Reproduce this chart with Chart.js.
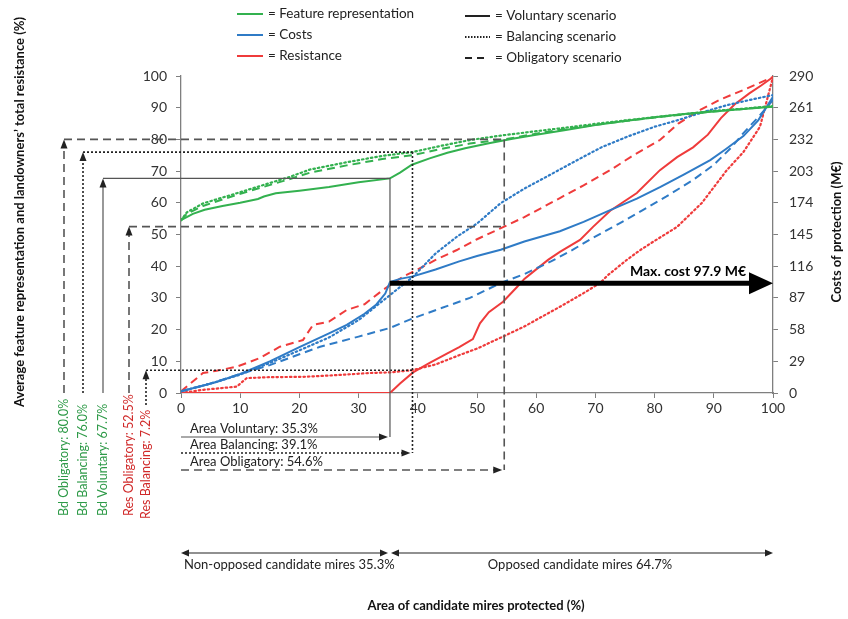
<!DOCTYPE html>
<html>
<head>
<meta charset="utf-8">
<script src="https://cdn.jsdelivr.net/npm/chart.js@4.4.1/dist/chart.umd.min.js"></script>
<style>
  html, body { margin: 0; padding: 0; background: #fff; }
  #wrap { width: 848px; height: 619px; }
</style>
</head>
<body>
<div id="wrap"><canvas id="c" width="848" height="619"></canvas></div>
<script>
// --- data (x = area of candidate mires protected, %) ---
// feature representation, % (left axis)
const featureVoluntary = [[0,54.5],[2,56.5],[4,57.8],[7,59],[10,60],[13,61.2],[14,62],[16,63],[20,63.8],[25,65],[30,66.5],[35.3,67.7],[37,69.5],[39,72],[42,74],[45,75.8],[48,77.2],[52,78.8],[56,80.2],[60,81.5],[65,83],[70,84.5],[75,85.8],[80,87],[85,88],[90,88.8],[95,89.6],[100,90.3]];
const featureBalancing = [[0,54.5],[1,57],[3.7,59.8],[9.4,63],[13.9,65.6],[18.4,68.2],[21.8,70.5],[28,72.8],[34,74.8],[39.1,76],[44,78],[48.8,79.8],[54,81.2],[60,82.6],[65,83.7],[70,84.9],[75,86],[80,87],[85,88],[90,89],[95,89.7],[100,90.5]];
const featureObligatory = [[0,54.5],[1,56.5],[3.7,59],[9.4,62.5],[13.9,65],[18.4,67.5],[21.8,69.5],[28,71.8],[34,73.8],[39.1,75],[44,77],[48.8,78.7],[54.6,80],[60,81.8],[65,83.3],[70,84.6],[75,85.8],[80,86.9],[85,87.9],[90,88.8],[95,89.6],[100,90.4]];

// costs of protection, M€ (right axis)
const costVoluntary = [[0,1.5],[3,5.8],[6,10],[10,17.4],[15,29],[20,42],[25,54.5],[28,62.4],[31,72.5],[33,81],[34.5,91],[35.3,101.5],[37,104.4],[39.2,106.7],[43,113],[47,120.4],[50,125.3],[54,131],[58,138.6],[64,148],[68,156.6],[72.5,167.3],[77,177.8],[81,188.5],[85,200],[89.4,213],[92,223],[95,235],[97.5,249.4],[100,271]];
const costBalancing = [[0,1.5],[5,8.7],[10,16.8],[15,27.5],[20,39],[25,50.8],[30,66.7],[35.3,89.6],[39.2,106.4],[43,127.6],[46.6,143],[50,155],[54,173.7],[58,187],[62,198.6],[66.9,213],[71,224.7],[75.3,234.3],[80,243.6],[83.8,249.4],[88,256.6],[92.2,263.3],[96,268],[100,272.6]];
const costObligatory = [[0,1.5],[5,8.7],[10,17.4],[15,25.5],[20,35.4],[23.5,42.3],[30,51.6],[35.3,59.5],[39.2,68.4],[44,77.7],[48.8,87],[54,100.6],[58,108.8],[62.5,120.4],[66,130.5],[69.6,142],[74,155],[78,167.3],[82,179.8],[86.5,194.9],[90,208.8],[93,224.8],[95,237.8],[97.5,252.3],[100,268]];

// landowners' total resistance, % (left axis)
const resistVoluntary = [[0,0],[35.3,0],[37,3],[39.2,6.5],[42,9.5],[45,12.5],[47,14.5],[49.3,17],[50.5,22],[52,25.5],[54.4,28.8],[56.8,33.5],[58,36],[60,39],[62,42],[64,44.5],[67.4,48.3],[69.6,52.4],[72.5,57.5],[77,63.1],[80.9,70.3],[83.8,74.4],[86.5,77.5],[89,81.5],[91.2,86.7],[93.5,91],[96,94.5],[98,97],[100,99.7]];
const resistBalancing = [[0,0],[3.7,1],[9.4,2],[11.1,4.7],[15,5],[20.6,5.1],[25,5.5],[31.9,6.3],[35.3,6.5],[39.1,7.2],[43,9],[47.1,12],[50,14],[54.4,17.8],[58,21],[64,27.2],[68,31.5],[70.8,34.7],[72,37],[75.3,42],[77.5,45],[80,48],[83.8,52.4],[88,60],[92.2,70.3],[95,76],[97.8,84],[100,99.7]];
const resistObligatory = [[0,0.5],[3.7,6.3],[6,7],[9.4,8.3],[13.3,11],[16.7,14.6],[20.6,16.7],[22.3,21.5],[25,22.5],[28,26.2],[31,28],[34.1,32.5],[37.5,36.7],[40,39],[43,42],[46.6,45.1],[50,48.5],[54.6,52.5],[58,55.5],[64,61.5],[68,65.5],[72.5,70.3],[76,74.5],[80.9,79.8],[84,85],[87.7,89.3],[91,92.5],[95,95.6],[100,99.7]];

// scenario summary values
const scenarioNames = ['Voluntary', 'Balancing', 'Obligatory'];
const scenarioArea = [35.3, 39.1, 54.6];
const scenarioFeature = [67.7, 76.0, 80.0];
const resistScenario = ['Obligatory', 'Balancing'];
const resistValue = [52.5, 7.2];
const resistArea = [54.6, 39.1];
const maxCostLabel = 97.9;
const maxCostLevel = 100.5;
const nonOpposedShare = 35.3;
const opposedShare = 64.7;

const xTicks = [0,10,20,30,40,50,60,70,80,90,100];
const leftTicks = [0,10,20,30,40,50,60,70,80,90,100];
const rightTicks = [0,29,58,87,116,145,174,203,232,261,290];

// --- style ---
const FONT = 'Lato, "Open Sans", sans-serif';
const GREEN = '#33b14f';
const BLUE = '#2f7bc6';
const RED = '#ef3b3b';
const DASH = { Voluntary: [], Balancing: [1.5, 3], Obligatory: [8, 5] };
const CAP = { Voluntary: 'butt', Balancing: 'round', Obligatory: 'butt' };

function pts(arr) { return arr.map(p => ({ x: p[0], y: p[1] })); }

function series(label, arr, color, scen, axis) {
  return {
    label: label,
    data: pts(arr),
    borderColor: color,
    backgroundColor: color,
    borderWidth: scen === 'Balancing' ? 2.2 : 2,
    borderDash: DASH[scen],
    borderCapStyle: CAP[scen],
    pointRadius: 0,
    tension: 0,
    fill: false,
    yAxisID: axis
  };
}

function arrowHead(ctx, x, y, dir, len, half) {
  ctx.save();
  ctx.setLineDash([]);
  ctx.beginPath();
  if (dir === 'up') { ctx.moveTo(x, y); ctx.lineTo(x - half, y + len); ctx.lineTo(x + half, y + len); }
  if (dir === 'right') { ctx.moveTo(x, y); ctx.lineTo(x - len, y - half); ctx.lineTo(x - len, y + half); }
  if (dir === 'left') { ctx.moveTo(x, y); ctx.lineTo(x + len, y - half); ctx.lineTo(x + len, y + half); }
  ctx.closePath();
  ctx.fill();
  ctx.restore();
}

function leaderStyle(ctx, scen) {
  ctx.setLineDash(scen === 'Voluntary' ? [] : scen === 'Balancing' ? [2, 2] : [8, 5]);
  ctx.lineWidth = scen === 'Voluntary' ? 1.2 : 1.6;
  ctx.strokeStyle = scen === 'Balancing' ? '#222' : '#555';
  ctx.fillStyle = '#222';
}

const annotations = {
  id: 'annotations',
  afterDatasetsDraw(chart) {
    const ctx = chart.ctx;
    const xs = chart.scales.x, ys = chart.scales.y, y2 = chart.scales.y2;
    const x0 = xs.getPixelForValue(0);
    const yBase = ys.getPixelForValue(0);

    // leader columns on the left (feature representation and resistance)
    const cols = [
      { x: 64, v: scenarioFeature[2], area: scenarioArea[2], scen: 'Obligatory', txt: 'Bd Obligatory: 80.0%', color: '#2e9a48' },
      { x: 83, v: scenarioFeature[1], area: scenarioArea[1], scen: 'Balancing', txt: 'Bd Balancing: 76.0%', color: '#2e9a48' },
      { x: 103, v: scenarioFeature[0], area: scenarioArea[0], scen: 'Voluntary', txt: 'Bd Voluntary: 67.7%', color: '#2e9a48' },
      { x: 129, v: resistValue[0], area: resistArea[0], scen: resistScenario[0], txt: 'Res Obligatory: 52.5%', color: '#d02a2a' },
      { x: 146, v: resistValue[1], area: resistArea[1], scen: resistScenario[1], txt: 'Res Balancing: 7.2%', color: '#d02a2a' }
    ];
    ctx.save();
    cols.forEach((c, i) => {
      const yv = ys.getPixelForValue(c.v);
      leaderStyle(ctx, c.scen);
      ctx.beginPath();
      ctx.moveTo(c.x, i === 4 ? yBase + 12 : yBase);
      ctx.lineTo(c.x, yv + 6);
      ctx.moveTo(c.x, yv);
      ctx.lineTo(xs.getPixelForValue(c.area), yv);
      ctx.stroke();
      arrowHead(ctx, c.x, yv, 'up', 9, 3.5);
      // rotated label
      ctx.save();
      ctx.translate(c.x, i === 4 ? 519 : 516);
      ctx.rotate(-Math.PI / 2);
      ctx.font = '12.5px ' + FONT;
      ctx.fillStyle = c.color;
      ctx.textAlign = 'left';
      ctx.textBaseline = 'middle';
      ctx.fillText(c.txt, 0, 0);
      ctx.restore();
    });

    // scenario verticals + area arrows below the axis
    const arrowY = [437, 453, 470];
    scenarioNames.forEach((s, i) => {
      const xp = xs.getPixelForValue(scenarioArea[i]);
      leaderStyle(ctx, s);
      ctx.beginPath();
      ctx.moveTo(xp, ys.getPixelForValue(scenarioFeature[i]));
      ctx.lineTo(xp, arrowY[i]);
      ctx.moveTo(x0, arrowY[i]);
      ctx.lineTo(xp - 6, arrowY[i]);
      ctx.stroke();
      arrowHead(ctx, xp - 2, arrowY[i], 'right', 9, 3.5);
      ctx.font = '13px ' + FONT;
      ctx.fillStyle = '#222';
      ctx.textAlign = 'left';
      ctx.textBaseline = 'alphabetic';
      ctx.fillText('Area ' + s + ': ' + scenarioArea[i].toFixed(1) + '%', x0 + 9, arrowY[i] - 4);
    });

    // max cost arrow
    const ya = y2.getPixelForValue(maxCostLevel);
    const xa0 = xs.getPixelForValue(scenarioArea[0]);
    const xa1 = xs.getPixelForValue(100);
    ctx.setLineDash([]);
    ctx.strokeStyle = '#000';
    ctx.fillStyle = '#000';
    ctx.lineWidth = 5;
    ctx.beginPath();
    ctx.moveTo(xa0, ya);
    ctx.lineTo(xa1 - 20, ya);
    ctx.stroke();
    arrowHead(ctx, xa1, ya, 'right', 24, 11);
    ctx.font = 'bold 14px ' + FONT;
    ctx.textAlign = 'right';
    ctx.textBaseline = 'alphabetic';
    ctx.fillText('Max. cost ' + maxCostLabel + ' M€', xa1 - 27, ya - 7);

    // opposed / non-opposed double arrows
    const yb = 553;
    const xm = xs.getPixelForValue(nonOpposedShare);
    ctx.lineWidth = 1.2;
    ctx.strokeStyle = '#222';
    ctx.fillStyle = '#222';
    ctx.beginPath();
    ctx.moveTo(x0 + 4, yb); ctx.lineTo(xm - 6, yb);
    ctx.moveTo(xm + 4, yb); ctx.lineTo(xa1 - 4, yb);
    ctx.stroke();
    arrowHead(ctx, x0, yb, 'left', 8, 3.5);
    arrowHead(ctx, xm - 2, yb, 'right', 8, 3.5);
    arrowHead(ctx, xm + 1, yb, 'left', 8, 3.5);
    arrowHead(ctx, xa1, yb, 'right', 8, 3.5);
    ctx.font = '13px ' + FONT;
    ctx.textBaseline = 'middle';
    ctx.textAlign = 'left';
    ctx.fillText('Non-opposed candidate mires ' + nonOpposedShare + '%', x0 + 3, 565);
    ctx.textAlign = 'center';
    ctx.fillText('Opposed candidate mires ' + opposedShare + '%', 580, 565);

    // axis titles
    ctx.font = 'bold 13px ' + FONT;
    ctx.fillStyle = '#111';
    ctx.textAlign = 'center';
    ctx.fillText('Area of candidate mires protected (%)', 476, 606);
    ctx.save();
    ctx.translate(20, 212);
    ctx.rotate(-Math.PI / 2);
    ctx.fillText('Average feature representation and landowners\u2019 total resistance (%)', 0, 0);
    ctx.restore();
    ctx.save();
    ctx.translate(837, 232);
    ctx.rotate(-Math.PI / 2);
    ctx.fillText('Costs of protection (M€)', 0, 0);
    ctx.restore();

    // legend
    const legL = [['= Feature representation', GREEN], ['= Costs', BLUE], ['= Resistance', RED]];
    const legR = [['= Voluntary scenario', 'Voluntary'], ['= Balancing scenario', 'Balancing'], ['= Obligatory scenario', 'Obligatory']];
    ctx.font = '13.5px ' + FONT;
    ctx.textAlign = 'left';
    ctx.textBaseline = 'middle';
    legL.forEach((l, i) => {
      const y = 14 + i * 21;
      ctx.setLineDash([]);
      ctx.lineWidth = 2;
      ctx.strokeStyle = l[1];
      ctx.beginPath(); ctx.moveTo(237, y); ctx.lineTo(263, y); ctx.stroke();
      ctx.fillStyle = '#222';
      ctx.fillText(l[0], 268, y);
    });
    legR.forEach((l, i) => {
      const y = 16 + i * 21;
      ctx.strokeStyle = '#222';
      ctx.lineWidth = 2;
      ctx.setLineDash(l[1] === 'Voluntary' ? [] : l[1] === 'Balancing' ? [1.5, 1.5] : [7, 5]);
      ctx.beginPath(); ctx.moveTo(465, y); ctx.lineTo(l[1] === 'Obligatory' ? 484 : 490, y); ctx.stroke();
      ctx.fillStyle = '#222';
      ctx.fillText(l[0], 495, y);
    });
    ctx.restore();
  }
};

const tickFont = { family: FONT, size: 14 };
const axisGrid = { drawOnChartArea: false, drawTicks: true, tickLength: 5, color: '#7f7f7f', lineWidth: 1 };
const axisBorder = { display: true, color: '#7f7f7f', width: 1.3 };

new Chart(document.getElementById('c'), {
  type: 'line',
  data: {
    datasets: [
      series('Feature Voluntary', featureVoluntary, GREEN, 'Voluntary', 'y'),
      series('Feature Balancing', featureBalancing, GREEN, 'Balancing', 'y'),
      series('Feature Obligatory', featureObligatory, GREEN, 'Obligatory', 'y'),
      series('Costs Voluntary', costVoluntary, BLUE, 'Voluntary', 'y2'),
      series('Costs Balancing', costBalancing, BLUE, 'Balancing', 'y2'),
      series('Costs Obligatory', costObligatory, BLUE, 'Obligatory', 'y2'),
      series('Resistance Voluntary', resistVoluntary, RED, 'Voluntary', 'y'),
      series('Resistance Balancing', resistBalancing, RED, 'Balancing', 'y'),
      series('Resistance Obligatory', resistObligatory, RED, 'Obligatory', 'y')
    ]
  },
  options: {
    responsive: false,
    animation: false,
    devicePixelRatio: 1,
    layout: { padding: { top: 76, bottom: 196, left: 0, right: 0 } },
    plugins: { legend: { display: false }, tooltip: { enabled: false } },
    scales: {
      x: {
        type: 'linear', min: 0, max: 100,
        afterBuildTicks(s) { s.ticks = xTicks.map(v => ({ value: v })); },
        ticks: { color: '#333', font: tickFont, padding: 2, maxRotation: 0 },
        grid: axisGrid, border: axisBorder,
        afterFit(s) { s.height = 30; }
      },
      y: {
        position: 'left', min: 0, max: 100,
        afterBuildTicks(s) { s.ticks = leftTicks.map(v => ({ value: v })); },
        ticks: { color: '#333', font: tickFont, padding: 9 },
        grid: axisGrid, border: axisBorder,
        afterFit(s) { s.width = 181; }
      },
      y2: {
        position: 'right', min: 0, max: 290,
        afterBuildTicks(s) { s.ticks = rightTicks.map(v => ({ value: v })); },
        ticks: { color: '#333', font: tickFont, padding: 11 },
        grid: axisGrid, border: axisBorder,
        afterFit(s) { s.width = 75; }
      }
    }
  },
  plugins: [annotations]
});
</script>
</body>
</html>
